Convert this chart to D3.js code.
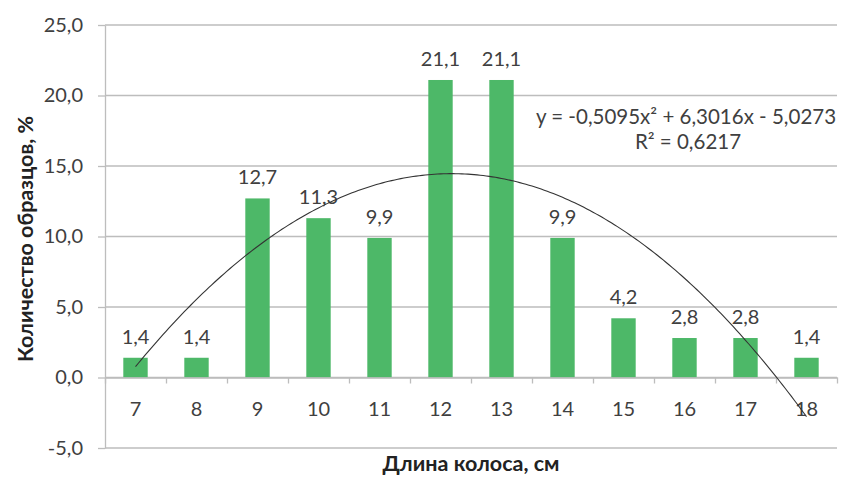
<!DOCTYPE html>
<html>
<head>
<meta charset="utf-8">
<script src="https://cdn.jsdelivr.net/npm/d3@7"></script>
<style>
  body { margin: 0; background: #fff; }
  svg { display: block; font-family: Lato, "Open Sans", sans-serif; }
</style>
</head>
<body>
<div id="chart"></div>
<script>
const lengths = ["7", "8", "9", "10", "11", "12", "13", "14", "15", "16", "17", "18"];
const shares = [1.4, 1.4, 12.7, 11.3, 9.9, 21.1, 21.1, 9.9, 4.2, 2.8, 2.8, 1.4];
const yTicks = [-5, 0, 5, 10, 15, 20, 25];
// trendline y = a*x^2 + b*x + c, x = category number 1..12
const trendCoef = [-0.5095, 6.3016, -5.0273];
const trendLabel = ["y = -0,5095x² + 6,3016x - 5,0273", "R² = 0,6217"];

const W = 845, H = 477;
const plotL = 105, plotR = 837, plotT = 25, plotB = 448;
const textCol = "#404040";
const gridCol = "#bdbdbd";

const svg = d3.select("#chart").append("svg")
  .attr("width", W).attr("height", H);

const x = d3.scaleBand().domain(lengths).range([plotL, plotR])
  .paddingInner(0.6).paddingOuter(0.3);
const y = d3.scaleLinear().domain([-5, 25]).range([plotB, plotT]);

const ru = d3.formatLocale({ decimal: ",", thousands: " ", grouping: [3], currency: ["", ""], minus: "-" });
const fmt = ru.format(".1f");

// gridlines
svg.append("g")
  .selectAll("line")
  .data(yTicks)
  .enter()
  .append("line")
  .attr("x1", plotL).attr("x2", plotR)
  .attr("y1", (d) => y(d)).attr("y2", (d) => y(d))
  .attr("stroke", gridCol).attr("stroke-width", 1.3);

// y axis
const yAxis = svg.append("g")
  .attr("transform", `translate(${plotL},0)`)
  .call(d3.axisLeft(y).tickValues(yTicks).tickFormat(fmt).tickSize(7).tickPadding(15).tickSizeOuter(0));
yAxis.select(".domain").attr("stroke", gridCol).attr("stroke-width", 1.3);
yAxis.selectAll(".tick line").attr("stroke", gridCol).attr("stroke-width", 1.3);
yAxis.selectAll("text").attr("fill", textCol).style("font-size", "20px").style("font-family", "Lato, sans-serif");

// bars
svg.append("g")
  .selectAll("rect")
  .data(shares)
  .enter()
  .append("rect")
  .attr("x", (d, i) => x(lengths[i]))
  .attr("y", (d) => y(d))
  .attr("width", x.bandwidth())
  .attr("height", (d) => y(0) - y(d))
  .attr("fill", "#4db868");

// x axis on zero line: boundary ticks
const xb = d3.scaleLinear().domain([0, lengths.length]).range([plotL, plotR]);
const xTickG = svg.append("g")
  .attr("transform", `translate(0,${y(0)})`)
  .call(d3.axisBottom(xb).tickValues(d3.range(lengths.length + 1)).tickFormat("").tickSize(6).tickSizeOuter(0));
xTickG.select(".domain").attr("stroke", gridCol).attr("stroke-width", 1.3);
xTickG.selectAll(".tick line").attr("stroke", gridCol).attr("stroke-width", 1.3);

const xLab = svg.append("g")
  .attr("transform", `translate(0,${y(0)})`)
  .call(d3.axisBottom(x).tickSize(0).tickPadding(24));
xLab.select(".domain").remove();
xLab.selectAll("text").attr("fill", textCol).style("font-size", "20px").style("font-family", "Lato, sans-serif");

// data labels
svg.append("g")
  .selectAll("text")
  .data(shares)
  .enter()
  .append("text")
  .attr("x", (d, i) => x(lengths[i]) + x.bandwidth() / 2)
  .attr("y", (d) => y(d) - 14)
  .attr("text-anchor", "middle")
  .attr("fill", textCol)
  .style("font-size", "20px")
  .text((d) => fmt(d));

// polynomial trendline
const xi = d3.scaleLinear().domain([1, lengths.length])
  .range([x(lengths[0]) + x.bandwidth() / 2, x(lengths[lengths.length - 1]) + x.bandwidth() / 2]);
const tPts = d3.range(1, lengths.length + 0.001, 0.05).map((t) => [t, trendCoef[0] * t * t + trendCoef[1] * t + trendCoef[2]]);
svg.append("path")
  .datum(tPts)
  .attr("fill", "none")
  .attr("stroke", "#333")
  .attr("stroke-width", 1.1)
  .attr("d", d3.line().x((d) => xi(d[0])).y((d) => y(d[1])));

svg.append("text")
  .attr("x", 686).attr("y", 124)
  .attr("text-anchor", "middle")
  .attr("fill", textCol)
  .style("font-size", "20.5px")
  .text(trendLabel[0]);
svg.append("text")
  .attr("x", 688).attr("y", 149)
  .attr("text-anchor", "middle")
  .attr("fill", textCol)
  .style("font-size", "20.5px")
  .text(trendLabel[1]);

// axis titles
svg.append("text")
  .attr("transform", "translate(33,239) rotate(-90)")
  .attr("text-anchor", "middle")
  .attr("fill", "#222")
  .style("font-size", "21.5px")
  .style("font-weight", "bold")
  .text("Количество образцов, %");

svg.append("text")
  .attr("x", 471).attr("y", 471)
  .attr("text-anchor", "middle")
  .attr("fill", "#222")
  .style("font-size", "21.5px")
  .style("font-weight", "bold")
  .text("Длина колоса, см");
</script>
</body>
</html>
